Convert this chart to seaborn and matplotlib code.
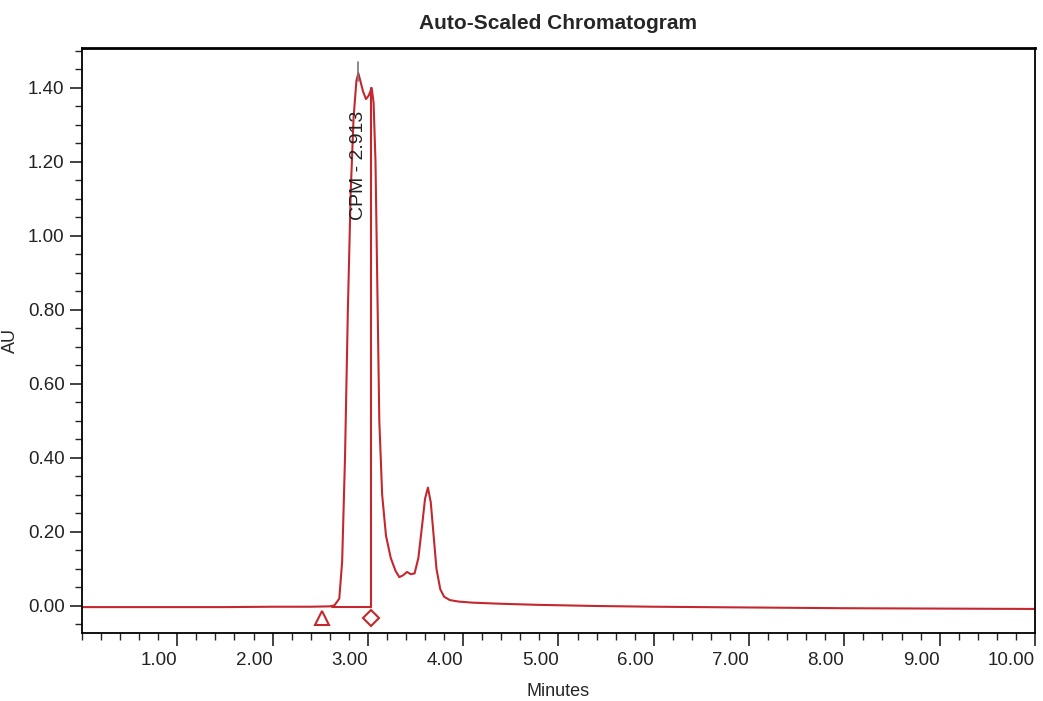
import numpy as np
import pandas as pd
import matplotlib
matplotlib.use("Agg")
import matplotlib.pyplot as plt
from matplotlib.ticker import MultipleLocator, FormatStrFormatter
import seaborn as sns

# chromatogram trace (minutes, AU)
minutes = [0.0, 0.5, 1.0, 1.5, 2.0, 2.4, 2.6, 2.65, 2.70, 2.73, 2.76, 2.79,
           2.82, 2.85, 2.88, 2.90, 2.92, 2.95, 2.98, 3.01, 3.04, 3.06, 3.08,
           3.10, 3.12, 3.15, 3.19, 3.24, 3.29, 3.33, 3.37, 3.41, 3.45, 3.49,
           3.53, 3.57, 3.60, 3.63, 3.66, 3.69, 3.72, 3.76, 3.80, 3.86, 3.95,
           4.10, 4.40, 4.80, 5.40, 6.00, 7.00, 8.00, 9.00, 10.0]
absorbance = [-0.003, -0.003, -0.003, -0.003, -0.002, -0.002, -0.001, 0.002,
              0.02, 0.12, 0.40, 0.80, 1.12, 1.32, 1.42, 1.44, 1.42, 1.39,
              1.37, 1.38, 1.40, 1.36, 1.20, 0.85, 0.50, 0.30, 0.19, 0.13,
              0.095, 0.078, 0.083, 0.092, 0.086, 0.088, 0.13, 0.22, 0.29,
              0.32, 0.28, 0.19, 0.10, 0.045, 0.025, 0.016, 0.012, 0.009,
              0.006, 0.003, 0.0, -0.002, -0.004, -0.006, -0.007, -0.008]

# peak integration marks
peak_start = 2.52
peak_end = 3.03
apex_time = 2.90
peak_label = "CPM - 2.913"

trace = pd.DataFrame({"Minutes": minutes, "AU": absorbance})

sns.set_style("ticks")
plt.rcParams["font.family"] = ["Liberation Sans", "DejaVu Sans"]

red = "#c4282e"
fig = plt.figure(figsize=(10.43, 7.01), dpi=100)
ax = fig.add_axes([0.0786, 0.097, 0.9137, 0.8345])

sns.lineplot(data=trace, x="Minutes", y="AU", color=red, linewidth=1.5, ax=ax)

# baseline under the main peak and the drop line at its end
ax.plot([2.62, peak_end], [-0.003, -0.003], color=red, linewidth=1.5)
ax.plot([peak_end, peak_end], [-0.003, 1.40], color=red, linewidth=1.5)
ax.plot([peak_start], [-0.032], marker="^", markersize=10, markerfacecolor="none",
        markeredgecolor=red, markeredgewidth=1.5)
ax.plot([peak_end], [-0.032], marker="D", markersize=8, markerfacecolor="none",
        markeredgecolor=red, markeredgewidth=1.5)
ax.plot([apex_time, apex_time], [1.42, 1.47], color="#777777", linewidth=1.2)
ax.text(apex_time, 1.19, peak_label, rotation=90, ha="center", va="center",
        fontsize=14, color="#222222")

ax.set_xlim(0, 10.0)
ax.set_ylim(-0.073, 1.508)
ax.set_xticks(np.arange(1, 11))
ax.xaxis.set_minor_locator(MultipleLocator(0.2))
ax.yaxis.set_major_locator(MultipleLocator(0.2))
ax.yaxis.set_minor_locator(MultipleLocator(0.05))
ax.xaxis.set_major_formatter(FormatStrFormatter("%.2f"))
ax.yaxis.set_major_formatter(FormatStrFormatter("%.2f"))
ax.tick_params(axis="both", which="major", direction="out", length=9, width=1.2,
               labelsize=13.5, colors="#222222")
ax.tick_params(axis="x", which="major", pad=5)
ax.tick_params(axis="both", which="minor", direction="out", length=5, width=1)
for lab in ax.get_xticklabels():
    lab.set_horizontalalignment("right")
for s in ax.spines.values():
    s.set_color("black")
    s.set_linewidth(1.3)
ax.spines["top"].set_linewidth(2)

ax.set_xlabel("Minutes", fontsize=13, labelpad=10)
ax.set_ylabel("AU", fontsize=13)
ax.yaxis.set_label_coords(-0.066, 0.5)
ax.set_title("Auto-Scaled Chromatogram", fontsize=15, fontweight="bold", pad=14)

fig.savefig("out.png", dpi=100)
